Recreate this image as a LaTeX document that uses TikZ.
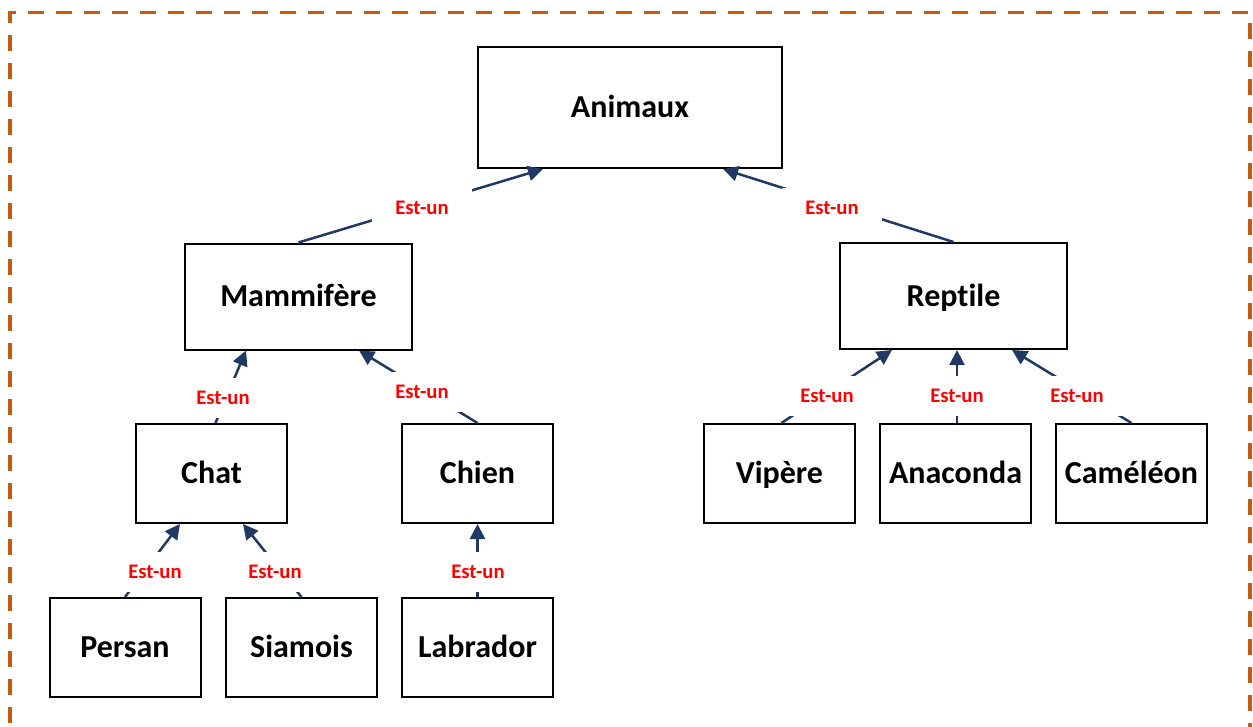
\documentclass[tikz,border=0pt]{standalone}
\usepackage{fontspec}
\setmainfont{Carlito}[RawFeature={-liga}]
\usetikzlibrary{arrows.meta,calc}
\definecolor{framecol}{RGB}{197,90,17}
\definecolor{linkblue}{RGB}{32,56,100}
\definecolor{tagred}{RGB}{255,0,0}
\begin{document}
\begin{tikzpicture}[x=1pt,y=-1pt,
  box/.style={draw=black, line width=2pt, fill=white, inner sep=0pt,
    font=\fontsize{32}{38}\selectfont\bfseries, text height=20.6pt, text depth=0pt},
  bigbox/.style={box, minimum width=#1, minimum height=106pt},
  smallbox/.style={box, minimum width=151pt, minimum height=99pt},
  isa/.style={draw=linkblue, line width=2.5pt, -{Triangle[length=15pt,width=15pt]}},
  isalabel/.style={fill=white, inner sep=0pt, minimum width=100pt, minimum height=40pt,
    text=tagred, font=\fontsize{20.7}{24}\selectfont\bfseries, text height=13.3pt, text depth=0pt}]
\clip (0,0) rectangle (1253,726);

% dashed frame around the whole hierarchy (its bottom edge lies below the page)
\draw[framecol, line width=3.5pt, dash pattern=on 16pt off 12pt, dash phase=10.5pt]
  (10,740) -- (10,12.5) -- (1250,12.5) -- (1250,740);

% classes
\node[box, minimum width=304pt, minimum height=121pt] (animaux) at (630,107.5) {Animaux};
\node[bigbox=227pt] (mammifere) at (298.5,296.5) {Mammifère};
\node[bigbox=227pt] (reptile) at (953.5,296) {Reptile};
\node[smallbox] (chat) at (211.5,473.5) {Chat};
\node[smallbox] (chien) at (477.5,473.5) {Chien};
\node[smallbox] (vipere) at (779.5,473.5) {Vipère};
\node[smallbox] (anaconda) at (955.5,473.5) {Anaconda};
\node[smallbox] (cameleon) at (1131.5,473.5) {Caméléon};
\node[smallbox] (persan) at (125,647.5) {Persan};
\node[smallbox] (siamois) at (301.5,647.5) {Siamois};
\node[smallbox] (labrador) at (477.5,647.5) {Labrador};

% start point of the vertical Anaconda link
\coordinate (anacondatop) at ($(anaconda.north)+(1.5,0)$);

% "is-a" links, child to parent
\draw[isa] (mammifere.north) -- ($(animaux.south)+(-87,0)$);
\draw[isa] (reptile.north) -- ($(animaux.south)+(93,0)$);
\draw[isa] ($(chat.north)+(4,0)$) -- ($(mammifere.south)+(-52.5,0)$);
\draw[isa] (chien.north) -- ($(mammifere.south)+(60.5,0)$);
\draw[isa] (persan.north) -- ($(chat.south)+(-31.5,0)$);
\draw[isa] (siamois.north) -- ($(chat.south)+(31.5,0)$);
\draw[isa] (labrador.north) -- (chien.south);
\draw[isa] ($(vipere.north)+(2,0)$) -- ($(reptile.south)+(-61.5,0)$);
\draw[isa] (anacondatop) -- (anacondatop |- reptile.south);
\draw[isa] (cameleon.north) -- ($(reptile.south)+(58.5,0)$);

% link labels
\node[isalabel] (l1) at (422,207.5) {Est-un};
\node[isalabel] (l2) at (832,208) {Est-un};
\node[isalabel] (l3) at (223,397.5) {Est-un};
\node[isalabel] (l4) at (422,391.5) {Est-un};
\node[isalabel] (l5) at (155,572) {Est-un};
\node[isalabel] (l6) at (275,572) {Est-un};
\node[isalabel] (l7) at (478,572) {Est-un};
\node[isalabel] (l8) at (827,396) {Est-un};
\node[isalabel] (l9) at (957,396) {Est-un};
\node[isalabel] (l10) at (1077,396) {Est-un};
\end{tikzpicture}
\end{document}
